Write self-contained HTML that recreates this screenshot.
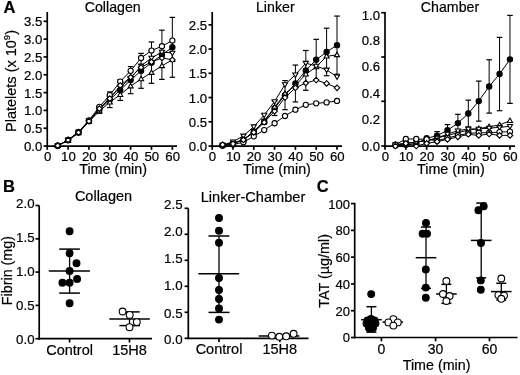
<!DOCTYPE html>
<html><head><meta charset="utf-8"><style>
html,body{margin:0;padding:0;background:#fff;width:520px;height:375px;overflow:hidden}
svg{display:block;filter:blur(0.3px)}
text{stroke:#000;stroke-width:0.2px}
</style></head><body>
<svg width="520" height="375" viewBox="0 0 520 375" font-family='"Liberation Sans", sans-serif' fill="#000" stroke="#000">
<rect width="520" height="375" fill="#fff" stroke="none"/>
<text x="3.4" y="12.9" font-size="16.5" text-anchor="start" font-weight="bold" >A</text>
<text x="3" y="191.9" font-size="16.5" text-anchor="start" font-weight="bold" >B</text>
<text x="316.8" y="192.3" font-size="16.5" text-anchor="start" font-weight="bold" >C</text>
<line x1="47.25" y1="12" x2="47.25" y2="146.9" stroke-width="1.7"/>
<line x1="46.4" y1="146.05" x2="177" y2="146.05" stroke-width="1.7"/>
<line x1="43.55" y1="146.05" x2="47.25" y2="146.05" stroke-width="1.7"/>
<line x1="43.55" y1="128.23" x2="47.25" y2="128.23" stroke-width="1.7"/>
<line x1="43.55" y1="110.41" x2="47.25" y2="110.41" stroke-width="1.7"/>
<line x1="43.55" y1="92.59" x2="47.25" y2="92.59" stroke-width="1.7"/>
<line x1="43.55" y1="74.76" x2="47.25" y2="74.76" stroke-width="1.7"/>
<line x1="43.55" y1="56.94" x2="47.25" y2="56.94" stroke-width="1.7"/>
<line x1="43.55" y1="39.12" x2="47.25" y2="39.12" stroke-width="1.7"/>
<line x1="43.55" y1="21.3" x2="47.25" y2="21.3" stroke-width="1.7"/>
<text x="42.25" y="151.05" font-size="13.2" text-anchor="end" font-weight="normal" >0.0</text>
<text x="42.25" y="133.23" font-size="13.2" text-anchor="end" font-weight="normal" >0.5</text>
<text x="42.25" y="115.41" font-size="13.2" text-anchor="end" font-weight="normal" >1.0</text>
<text x="42.25" y="97.59" font-size="13.2" text-anchor="end" font-weight="normal" >1.5</text>
<text x="42.25" y="79.76" font-size="13.2" text-anchor="end" font-weight="normal" >2.0</text>
<text x="42.25" y="61.94" font-size="13.2" text-anchor="end" font-weight="normal" >2.5</text>
<text x="42.25" y="44.12" font-size="13.2" text-anchor="end" font-weight="normal" >3.0</text>
<text x="42.25" y="26.3" font-size="13.2" text-anchor="end" font-weight="normal" >3.5</text>
<line x1="47.25" y1="146.05" x2="47.25" y2="149.85" stroke-width="1.7"/>
<text x="47.55" y="160.75" font-size="13.2" text-anchor="middle" font-weight="normal" >0</text>
<line x1="68.1" y1="146.05" x2="68.1" y2="149.85" stroke-width="1.7"/>
<text x="68.4" y="160.75" font-size="13.2" text-anchor="middle" font-weight="normal" >10</text>
<line x1="88.95" y1="146.05" x2="88.95" y2="149.85" stroke-width="1.7"/>
<text x="89.25" y="160.75" font-size="13.2" text-anchor="middle" font-weight="normal" >20</text>
<line x1="109.8" y1="146.05" x2="109.8" y2="149.85" stroke-width="1.7"/>
<text x="110.1" y="160.75" font-size="13.2" text-anchor="middle" font-weight="normal" >30</text>
<line x1="130.65" y1="146.05" x2="130.65" y2="149.85" stroke-width="1.7"/>
<text x="130.95" y="160.75" font-size="13.2" text-anchor="middle" font-weight="normal" >40</text>
<line x1="151.5" y1="146.05" x2="151.5" y2="149.85" stroke-width="1.7"/>
<text x="151.8" y="160.75" font-size="13.2" text-anchor="middle" font-weight="normal" >50</text>
<line x1="172.35" y1="146.05" x2="172.35" y2="149.85" stroke-width="1.7"/>
<text x="172.65" y="160.75" font-size="13.2" text-anchor="middle" font-weight="normal" >60</text>
<text x="113.1" y="173.55" font-size="14" text-anchor="middle" font-weight="normal" textLength="67.8" lengthAdjust="spacingAndGlyphs">Time (min)</text>
<text x="112.7" y="11.5" font-size="14.2" text-anchor="middle" font-weight="normal" >Collagen</text>
<line x1="99.38" y1="106.13" x2="99.38" y2="113.26" stroke-width="1.0"/>
<line x1="96.58" y1="106.13" x2="102.17" y2="106.13" stroke-width="1.2"/>
<line x1="96.58" y1="113.26" x2="102.17" y2="113.26" stroke-width="1.2"/>
<line x1="109.8" y1="91.87" x2="109.8" y2="107.56" stroke-width="1.0"/>
<line x1="107" y1="91.87" x2="112.6" y2="91.87" stroke-width="1.2"/>
<line x1="107" y1="107.56" x2="112.6" y2="107.56" stroke-width="1.2"/>
<line x1="120.22" y1="79.75" x2="120.22" y2="100.43" stroke-width="1.0"/>
<line x1="117.42" y1="79.75" x2="123.02" y2="79.75" stroke-width="1.2"/>
<line x1="117.42" y1="100.43" x2="123.02" y2="100.43" stroke-width="1.2"/>
<line x1="130.65" y1="66.57" x2="130.65" y2="93.66" stroke-width="1.0"/>
<line x1="127.85" y1="66.57" x2="133.45" y2="66.57" stroke-width="1.2"/>
<line x1="127.85" y1="93.66" x2="133.45" y2="93.66" stroke-width="1.2"/>
<line x1="141.07" y1="53.38" x2="141.07" y2="88.31" stroke-width="1.0"/>
<line x1="138.27" y1="53.38" x2="143.88" y2="53.38" stroke-width="1.2"/>
<line x1="138.27" y1="88.31" x2="143.88" y2="88.31" stroke-width="1.2"/>
<line x1="151.5" y1="41.97" x2="151.5" y2="83.32" stroke-width="1.0"/>
<line x1="148.7" y1="41.97" x2="154.3" y2="41.97" stroke-width="1.2"/>
<line x1="148.7" y1="83.32" x2="154.3" y2="83.32" stroke-width="1.2"/>
<line x1="161.93" y1="30.21" x2="161.93" y2="79.4" stroke-width="1.0"/>
<line x1="159.12" y1="30.21" x2="164.73" y2="30.21" stroke-width="1.2"/>
<line x1="159.12" y1="79.4" x2="164.73" y2="79.4" stroke-width="1.2"/>
<line x1="172.35" y1="17.38" x2="172.35" y2="77.26" stroke-width="1.0"/>
<line x1="169.55" y1="17.38" x2="175.15" y2="17.38" stroke-width="1.2"/>
<line x1="169.55" y1="77.26" x2="175.15" y2="77.26" stroke-width="1.2"/>
<polyline points="57.67,145.69 68.1,139.99 78.53,132.51 88.95,121.1 99.38,109.69 109.8,99.71 120.22,90.09 130.65,80.11 141.07,70.84 151.5,62.65 161.93,54.8 172.35,47.32" fill="none" stroke="#000" stroke-width="1.0"/>
<polyline points="57.67,145.69 68.1,140.7 78.53,132.86 88.95,121.81 99.38,111.12 109.8,102.21 120.22,94.72 130.65,86.17 141.07,79.04 151.5,72.63 161.93,65.85 172.35,59.79" fill="none" stroke="#000" stroke-width="1.0"/>
<polyline points="57.67,145.69 68.1,139.99 78.53,132.15 88.95,120.74 99.38,108.62 109.8,97.93 120.22,87.24 130.65,78.33 141.07,65.85 151.5,58.01 161.93,51.95 172.35,53.02" fill="none" stroke="#000" stroke-width="1.0"/>
<polyline points="57.67,145.69 68.1,139.99 78.53,131.79 88.95,120.39 99.38,106.84 109.8,95.08 120.22,81.54 130.65,70.84 141.07,58.01 151.5,50.53 161.93,46.25 172.35,40.55" fill="none" stroke="#000" stroke-width="1.0"/>
<polyline points="57.67,145.69 68.1,139.99 78.53,132.51 88.95,121.1 99.38,108.62 109.8,98.65 120.22,85.46 130.65,77.26 141.07,67.28 151.5,61.93 161.93,58.01 172.35,59.79" fill="none" stroke="#000" stroke-width="1.0"/>
<circle cx="57.67" cy="145.69" r="2.65" fill="#000" stroke="#000" stroke-width="1.1"/>
<circle cx="68.1" cy="139.99" r="2.65" fill="#000" stroke="#000" stroke-width="1.1"/>
<circle cx="78.53" cy="132.51" r="2.65" fill="#000" stroke="#000" stroke-width="1.1"/>
<circle cx="88.95" cy="121.1" r="2.65" fill="#000" stroke="#000" stroke-width="1.1"/>
<circle cx="99.38" cy="109.69" r="2.65" fill="#000" stroke="#000" stroke-width="1.1"/>
<circle cx="109.8" cy="99.71" r="2.65" fill="#000" stroke="#000" stroke-width="1.1"/>
<circle cx="120.22" cy="90.09" r="2.65" fill="#000" stroke="#000" stroke-width="1.1"/>
<circle cx="130.65" cy="80.11" r="2.65" fill="#000" stroke="#000" stroke-width="1.1"/>
<circle cx="141.07" cy="70.84" r="2.65" fill="#000" stroke="#000" stroke-width="1.1"/>
<circle cx="151.5" cy="62.65" r="2.65" fill="#000" stroke="#000" stroke-width="1.1"/>
<circle cx="161.93" cy="54.8" r="2.65" fill="#000" stroke="#000" stroke-width="1.1"/>
<circle cx="172.35" cy="47.32" r="2.65" fill="#000" stroke="#000" stroke-width="1.1"/>
<polygon points="57.67,142.99 60.22,147.44 55.12,147.44" fill="#fff" stroke="#000" stroke-width="1.1" stroke-linejoin="miter"/>
<polygon points="68.1,138 70.65,142.45 65.55,142.45" fill="#fff" stroke="#000" stroke-width="1.1" stroke-linejoin="miter"/>
<polygon points="78.53,130.16 81.08,134.61 75.98,134.61" fill="#fff" stroke="#000" stroke-width="1.1" stroke-linejoin="miter"/>
<polygon points="88.95,119.11 91.5,123.56 86.4,123.56" fill="#fff" stroke="#000" stroke-width="1.1" stroke-linejoin="miter"/>
<polygon points="99.38,108.42 101.92,112.87 96.83,112.87" fill="#fff" stroke="#000" stroke-width="1.1" stroke-linejoin="miter"/>
<polygon points="109.8,99.51 112.35,103.96 107.25,103.96" fill="#fff" stroke="#000" stroke-width="1.1" stroke-linejoin="miter"/>
<polygon points="120.22,92.02 122.77,96.47 117.67,96.47" fill="#fff" stroke="#000" stroke-width="1.1" stroke-linejoin="miter"/>
<polygon points="130.65,83.47 133.2,87.92 128.1,87.92" fill="#fff" stroke="#000" stroke-width="1.1" stroke-linejoin="miter"/>
<polygon points="141.07,76.34 143.62,80.79 138.52,80.79" fill="#fff" stroke="#000" stroke-width="1.1" stroke-linejoin="miter"/>
<polygon points="151.5,69.93 154.05,74.38 148.95,74.38" fill="#fff" stroke="#000" stroke-width="1.1" stroke-linejoin="miter"/>
<polygon points="161.93,63.15 164.48,67.6 159.38,67.6" fill="#fff" stroke="#000" stroke-width="1.1" stroke-linejoin="miter"/>
<polygon points="172.35,57.09 174.9,61.54 169.8,61.54" fill="#fff" stroke="#000" stroke-width="1.1" stroke-linejoin="miter"/>
<polygon points="57.67,148.39 60.22,143.94 55.12,143.94" fill="#fff" stroke="#000" stroke-width="1.1"/>
<polygon points="68.1,142.69 70.65,138.24 65.55,138.24" fill="#fff" stroke="#000" stroke-width="1.1"/>
<polygon points="78.53,134.85 81.08,130.4 75.98,130.4" fill="#fff" stroke="#000" stroke-width="1.1"/>
<polygon points="88.95,123.44 91.5,118.99 86.4,118.99" fill="#fff" stroke="#000" stroke-width="1.1"/>
<polygon points="99.38,111.33 101.92,106.88 96.83,106.88" fill="#fff" stroke="#000" stroke-width="1.1"/>
<polygon points="109.8,100.63 112.35,96.18 107.25,96.18" fill="#fff" stroke="#000" stroke-width="1.1"/>
<polygon points="120.22,89.94 122.77,85.49 117.67,85.49" fill="#fff" stroke="#000" stroke-width="1.1"/>
<polygon points="130.65,81.03 133.2,76.58 128.1,76.58" fill="#fff" stroke="#000" stroke-width="1.1"/>
<polygon points="141.07,68.55 143.62,64.1 138.52,64.1" fill="#fff" stroke="#000" stroke-width="1.1"/>
<polygon points="151.5,60.71 154.05,56.26 148.95,56.26" fill="#fff" stroke="#000" stroke-width="1.1"/>
<polygon points="161.93,54.65 164.48,50.2 159.38,50.2" fill="#fff" stroke="#000" stroke-width="1.1"/>
<polygon points="172.35,55.72 174.9,51.27 169.8,51.27" fill="#fff" stroke="#000" stroke-width="1.1"/>
<circle cx="57.67" cy="145.69" r="2.6" fill="#fff" stroke="#000" stroke-width="1.1"/>
<circle cx="68.1" cy="139.99" r="2.6" fill="#fff" stroke="#000" stroke-width="1.1"/>
<circle cx="78.53" cy="131.79" r="2.6" fill="#fff" stroke="#000" stroke-width="1.1"/>
<circle cx="88.95" cy="120.39" r="2.6" fill="#fff" stroke="#000" stroke-width="1.1"/>
<circle cx="99.38" cy="106.84" r="2.6" fill="#fff" stroke="#000" stroke-width="1.1"/>
<circle cx="109.8" cy="95.08" r="2.6" fill="#fff" stroke="#000" stroke-width="1.1"/>
<circle cx="120.22" cy="81.54" r="2.6" fill="#fff" stroke="#000" stroke-width="1.1"/>
<circle cx="130.65" cy="70.84" r="2.6" fill="#fff" stroke="#000" stroke-width="1.1"/>
<circle cx="141.07" cy="58.01" r="2.6" fill="#fff" stroke="#000" stroke-width="1.1"/>
<circle cx="151.5" cy="50.53" r="2.6" fill="#fff" stroke="#000" stroke-width="1.1"/>
<circle cx="161.93" cy="46.25" r="2.6" fill="#fff" stroke="#000" stroke-width="1.1"/>
<circle cx="172.35" cy="40.55" r="2.6" fill="#fff" stroke="#000" stroke-width="1.1"/>
<polygon points="57.67,142.94 60.42,145.69 57.67,148.44 54.92,145.69" fill="#fff" stroke="#000" stroke-width="1.1"/>
<polygon points="68.1,137.24 70.85,139.99 68.1,142.74 65.35,139.99" fill="#fff" stroke="#000" stroke-width="1.1"/>
<polygon points="78.53,129.76 81.28,132.51 78.53,135.26 75.78,132.51" fill="#fff" stroke="#000" stroke-width="1.1"/>
<polygon points="88.95,118.35 91.7,121.1 88.95,123.85 86.2,121.1" fill="#fff" stroke="#000" stroke-width="1.1"/>
<polygon points="99.38,105.88 102.12,108.62 99.38,111.38 96.62,108.62" fill="#fff" stroke="#000" stroke-width="1.1"/>
<polygon points="109.8,95.9 112.55,98.65 109.8,101.4 107.05,98.65" fill="#fff" stroke="#000" stroke-width="1.1"/>
<polygon points="120.22,82.71 122.97,85.46 120.22,88.21 117.47,85.46" fill="#fff" stroke="#000" stroke-width="1.1"/>
<polygon points="130.65,74.51 133.4,77.26 130.65,80.01 127.9,77.26" fill="#fff" stroke="#000" stroke-width="1.1"/>
<polygon points="141.07,64.53 143.82,67.28 141.07,70.03 138.32,67.28" fill="#fff" stroke="#000" stroke-width="1.1"/>
<polygon points="151.5,59.18 154.25,61.93 151.5,64.68 148.75,61.93" fill="#fff" stroke="#000" stroke-width="1.1"/>
<polygon points="161.93,55.26 164.68,58.01 161.93,60.76 159.18,58.01" fill="#fff" stroke="#000" stroke-width="1.1"/>
<polygon points="172.35,57.04 175.1,59.79 172.35,62.54 169.6,59.79" fill="#fff" stroke="#000" stroke-width="1.1"/>
<line x1="212.2" y1="12" x2="212.2" y2="146.9" stroke-width="1.7"/>
<line x1="211.35" y1="146.05" x2="342" y2="146.05" stroke-width="1.7"/>
<line x1="208.5" y1="146.05" x2="212.2" y2="146.05" stroke-width="1.7"/>
<line x1="208.5" y1="121.8" x2="212.2" y2="121.8" stroke-width="1.7"/>
<line x1="208.5" y1="97.55" x2="212.2" y2="97.55" stroke-width="1.7"/>
<line x1="208.5" y1="73.3" x2="212.2" y2="73.3" stroke-width="1.7"/>
<line x1="208.5" y1="49.05" x2="212.2" y2="49.05" stroke-width="1.7"/>
<line x1="208.5" y1="24.8" x2="212.2" y2="24.8" stroke-width="1.7"/>
<text x="207.2" y="151.05" font-size="13.2" text-anchor="end" font-weight="normal" >0.0</text>
<text x="207.2" y="126.8" font-size="13.2" text-anchor="end" font-weight="normal" >0.5</text>
<text x="207.2" y="102.55" font-size="13.2" text-anchor="end" font-weight="normal" >1.0</text>
<text x="207.2" y="78.3" font-size="13.2" text-anchor="end" font-weight="normal" >1.5</text>
<text x="207.2" y="54.05" font-size="13.2" text-anchor="end" font-weight="normal" >2.0</text>
<text x="207.2" y="29.8" font-size="13.2" text-anchor="end" font-weight="normal" >2.5</text>
<line x1="212.2" y1="146.05" x2="212.2" y2="149.85" stroke-width="1.7"/>
<text x="212.5" y="160.75" font-size="13.2" text-anchor="middle" font-weight="normal" >0</text>
<line x1="233" y1="146.05" x2="233" y2="149.85" stroke-width="1.7"/>
<text x="233.3" y="160.75" font-size="13.2" text-anchor="middle" font-weight="normal" >10</text>
<line x1="253.8" y1="146.05" x2="253.8" y2="149.85" stroke-width="1.7"/>
<text x="254.1" y="160.75" font-size="13.2" text-anchor="middle" font-weight="normal" >20</text>
<line x1="274.6" y1="146.05" x2="274.6" y2="149.85" stroke-width="1.7"/>
<text x="274.9" y="160.75" font-size="13.2" text-anchor="middle" font-weight="normal" >30</text>
<line x1="295.4" y1="146.05" x2="295.4" y2="149.85" stroke-width="1.7"/>
<text x="295.7" y="160.75" font-size="13.2" text-anchor="middle" font-weight="normal" >40</text>
<line x1="316.2" y1="146.05" x2="316.2" y2="149.85" stroke-width="1.7"/>
<text x="316.5" y="160.75" font-size="13.2" text-anchor="middle" font-weight="normal" >50</text>
<line x1="337" y1="146.05" x2="337" y2="149.85" stroke-width="1.7"/>
<text x="337.3" y="160.75" font-size="13.2" text-anchor="middle" font-weight="normal" >60</text>
<text x="277" y="173.55" font-size="14" text-anchor="middle" font-weight="normal" textLength="67.8" lengthAdjust="spacingAndGlyphs">Time (min)</text>
<text x="275.3" y="11.5" font-size="14.2" text-anchor="middle" font-weight="normal" >Linker</text>
<line x1="264.2" y1="119.38" x2="264.2" y2="124.23" stroke-width="1.0"/>
<line x1="261.4" y1="119.38" x2="267" y2="119.38" stroke-width="1.2"/>
<line x1="261.4" y1="124.23" x2="267" y2="124.23" stroke-width="1.2"/>
<line x1="274.6" y1="100.94" x2="274.6" y2="115.5" stroke-width="1.0"/>
<line x1="271.8" y1="100.94" x2="277.4" y2="100.94" stroke-width="1.2"/>
<line x1="271.8" y1="115.5" x2="277.4" y2="115.5" stroke-width="1.2"/>
<line x1="285" y1="80.58" x2="285" y2="109.67" stroke-width="1.0"/>
<line x1="282.2" y1="80.58" x2="287.8" y2="80.58" stroke-width="1.2"/>
<line x1="282.2" y1="109.67" x2="287.8" y2="109.67" stroke-width="1.2"/>
<line x1="295.4" y1="65.05" x2="295.4" y2="101.92" stroke-width="1.0"/>
<line x1="292.6" y1="65.05" x2="298.2" y2="65.05" stroke-width="1.2"/>
<line x1="292.6" y1="101.92" x2="298.2" y2="101.92" stroke-width="1.2"/>
<line x1="305.8" y1="50.5" x2="305.8" y2="90.28" stroke-width="1.0"/>
<line x1="303" y1="50.5" x2="308.6" y2="50.5" stroke-width="1.2"/>
<line x1="303" y1="90.28" x2="308.6" y2="90.28" stroke-width="1.2"/>
<line x1="316.2" y1="39.35" x2="316.2" y2="80.09" stroke-width="1.0"/>
<line x1="313.4" y1="39.35" x2="319" y2="39.35" stroke-width="1.2"/>
<line x1="313.4" y1="80.09" x2="319" y2="80.09" stroke-width="1.2"/>
<line x1="326.6" y1="28.19" x2="326.6" y2="75.72" stroke-width="1.0"/>
<line x1="323.8" y1="28.19" x2="329.4" y2="28.19" stroke-width="1.2"/>
<line x1="323.8" y1="75.72" x2="329.4" y2="75.72" stroke-width="1.2"/>
<line x1="337" y1="16.07" x2="337" y2="74.27" stroke-width="1.0"/>
<line x1="334.2" y1="16.07" x2="339.8" y2="16.07" stroke-width="1.2"/>
<line x1="334.2" y1="74.27" x2="339.8" y2="74.27" stroke-width="1.2"/>
<polyline points="222.6,145.08 233,143.14 243.4,139.75 253.8,131.5 264.2,121.8 274.6,108.22 285,95.12 295.4,83.48 305.8,70.39 316.2,59.72 326.6,51.96 337,45.17" fill="none" stroke="#000" stroke-width="1.0"/>
<polyline points="222.6,145.81 233,144.59 243.4,142.17 253.8,136.35 264.2,130.05 274.6,123.26 285,115.98 295.4,109.68 305.8,104.83 316.2,103.37 326.6,102.4 337,100.94" fill="none" stroke="#000" stroke-width="1.0"/>
<polyline points="222.6,145.08 233,143.14 243.4,139.75 253.8,131.5 264.2,120.83 274.6,107.25 285,93.67 295.4,85.43 305.8,74.27 316.2,67 326.6,56.32 337,54.87" fill="none" stroke="#000" stroke-width="1.0"/>
<polyline points="222.6,145.08 233,141.69 243.4,135.87 253.8,126.65 264.2,115.01 274.6,101.43 285,84.45 295.4,74.75 305.8,63.11 316.2,66.03 326.6,69.91 337,76.7" fill="none" stroke="#000" stroke-width="1.0"/>
<polyline points="222.6,144.69 233,143.87 243.4,139.89 253.8,132.47 264.2,122.29 274.6,111.13 285,97.55 295.4,87.85 305.8,83 316.2,80.09 326.6,83.48 337,87.85" fill="none" stroke="#000" stroke-width="1.0"/>
<circle cx="222.6" cy="145.08" r="2.65" fill="#000" stroke="#000" stroke-width="1.1"/>
<circle cx="233" cy="143.14" r="2.65" fill="#000" stroke="#000" stroke-width="1.1"/>
<circle cx="243.4" cy="139.75" r="2.65" fill="#000" stroke="#000" stroke-width="1.1"/>
<circle cx="253.8" cy="131.5" r="2.65" fill="#000" stroke="#000" stroke-width="1.1"/>
<circle cx="264.2" cy="121.8" r="2.65" fill="#000" stroke="#000" stroke-width="1.1"/>
<circle cx="274.6" cy="108.22" r="2.65" fill="#000" stroke="#000" stroke-width="1.1"/>
<circle cx="285" cy="95.12" r="2.65" fill="#000" stroke="#000" stroke-width="1.1"/>
<circle cx="295.4" cy="83.48" r="2.65" fill="#000" stroke="#000" stroke-width="1.1"/>
<circle cx="305.8" cy="70.39" r="2.65" fill="#000" stroke="#000" stroke-width="1.1"/>
<circle cx="316.2" cy="59.72" r="2.65" fill="#000" stroke="#000" stroke-width="1.1"/>
<circle cx="326.6" cy="51.96" r="2.65" fill="#000" stroke="#000" stroke-width="1.1"/>
<circle cx="337" cy="45.17" r="2.65" fill="#000" stroke="#000" stroke-width="1.1"/>
<circle cx="222.6" cy="145.81" r="2.6" fill="#fff" stroke="#000" stroke-width="1.1"/>
<circle cx="233" cy="144.59" r="2.6" fill="#fff" stroke="#000" stroke-width="1.1"/>
<circle cx="243.4" cy="142.17" r="2.6" fill="#fff" stroke="#000" stroke-width="1.1"/>
<circle cx="253.8" cy="136.35" r="2.6" fill="#fff" stroke="#000" stroke-width="1.1"/>
<circle cx="264.2" cy="130.05" r="2.6" fill="#fff" stroke="#000" stroke-width="1.1"/>
<circle cx="274.6" cy="123.26" r="2.6" fill="#fff" stroke="#000" stroke-width="1.1"/>
<circle cx="285" cy="115.98" r="2.6" fill="#fff" stroke="#000" stroke-width="1.1"/>
<circle cx="295.4" cy="109.68" r="2.6" fill="#fff" stroke="#000" stroke-width="1.1"/>
<circle cx="305.8" cy="104.83" r="2.6" fill="#fff" stroke="#000" stroke-width="1.1"/>
<circle cx="316.2" cy="103.37" r="2.6" fill="#fff" stroke="#000" stroke-width="1.1"/>
<circle cx="326.6" cy="102.4" r="2.6" fill="#fff" stroke="#000" stroke-width="1.1"/>
<circle cx="337" cy="100.94" r="2.6" fill="#fff" stroke="#000" stroke-width="1.1"/>
<polygon points="222.6,142.38 225.15,146.83 220.05,146.83" fill="#fff" stroke="#000" stroke-width="1.1" stroke-linejoin="miter"/>
<polygon points="233,140.44 235.55,144.89 230.45,144.89" fill="#fff" stroke="#000" stroke-width="1.1" stroke-linejoin="miter"/>
<polygon points="243.4,137.05 245.95,141.5 240.85,141.5" fill="#fff" stroke="#000" stroke-width="1.1" stroke-linejoin="miter"/>
<polygon points="253.8,128.8 256.35,133.25 251.25,133.25" fill="#fff" stroke="#000" stroke-width="1.1" stroke-linejoin="miter"/>
<polygon points="264.2,118.13 266.75,122.58 261.65,122.58" fill="#fff" stroke="#000" stroke-width="1.1" stroke-linejoin="miter"/>
<polygon points="274.6,104.55 277.15,109 272.05,109" fill="#fff" stroke="#000" stroke-width="1.1" stroke-linejoin="miter"/>
<polygon points="285,90.97 287.55,95.42 282.45,95.42" fill="#fff" stroke="#000" stroke-width="1.1" stroke-linejoin="miter"/>
<polygon points="295.4,82.73 297.95,87.18 292.85,87.18" fill="#fff" stroke="#000" stroke-width="1.1" stroke-linejoin="miter"/>
<polygon points="305.8,71.57 308.35,76.02 303.25,76.02" fill="#fff" stroke="#000" stroke-width="1.1" stroke-linejoin="miter"/>
<polygon points="316.2,64.3 318.75,68.75 313.65,68.75" fill="#fff" stroke="#000" stroke-width="1.1" stroke-linejoin="miter"/>
<polygon points="326.6,53.62 329.15,58.07 324.05,58.07" fill="#fff" stroke="#000" stroke-width="1.1" stroke-linejoin="miter"/>
<polygon points="337,52.17 339.55,56.62 334.45,56.62" fill="#fff" stroke="#000" stroke-width="1.1" stroke-linejoin="miter"/>
<polygon points="222.6,147.78 225.15,143.33 220.05,143.33" fill="#fff" stroke="#000" stroke-width="1.1"/>
<polygon points="233,144.38 235.55,139.94 230.45,139.94" fill="#fff" stroke="#000" stroke-width="1.1"/>
<polygon points="243.4,138.56 245.95,134.12 240.85,134.12" fill="#fff" stroke="#000" stroke-width="1.1"/>
<polygon points="253.8,129.35 256.35,124.9 251.25,124.9" fill="#fff" stroke="#000" stroke-width="1.1"/>
<polygon points="264.2,117.71 266.75,113.26 261.65,113.26" fill="#fff" stroke="#000" stroke-width="1.1"/>
<polygon points="274.6,104.13 277.15,99.68 272.05,99.68" fill="#fff" stroke="#000" stroke-width="1.1"/>
<polygon points="285,87.16 287.55,82.7 282.45,82.7" fill="#fff" stroke="#000" stroke-width="1.1"/>
<polygon points="295.4,77.45 297.95,73 292.85,73" fill="#fff" stroke="#000" stroke-width="1.1"/>
<polygon points="305.8,65.81 308.35,61.36 303.25,61.36" fill="#fff" stroke="#000" stroke-width="1.1"/>
<polygon points="316.2,68.73 318.75,64.28 313.65,64.28" fill="#fff" stroke="#000" stroke-width="1.1"/>
<polygon points="326.6,72.61 329.15,68.16 324.05,68.16" fill="#fff" stroke="#000" stroke-width="1.1"/>
<polygon points="337,79.4 339.55,74.95 334.45,74.95" fill="#fff" stroke="#000" stroke-width="1.1"/>
<polygon points="222.6,141.94 225.35,144.69 222.6,147.44 219.85,144.69" fill="#fff" stroke="#000" stroke-width="1.1"/>
<polygon points="233,141.12 235.75,143.87 233,146.62 230.25,143.87" fill="#fff" stroke="#000" stroke-width="1.1"/>
<polygon points="243.4,137.14 246.15,139.89 243.4,142.64 240.65,139.89" fill="#fff" stroke="#000" stroke-width="1.1"/>
<polygon points="253.8,129.72 256.55,132.47 253.8,135.22 251.05,132.47" fill="#fff" stroke="#000" stroke-width="1.1"/>
<polygon points="264.2,119.54 266.95,122.29 264.2,125.04 261.45,122.29" fill="#fff" stroke="#000" stroke-width="1.1"/>
<polygon points="274.6,108.38 277.35,111.13 274.6,113.88 271.85,111.13" fill="#fff" stroke="#000" stroke-width="1.1"/>
<polygon points="285,94.8 287.75,97.55 285,100.3 282.25,97.55" fill="#fff" stroke="#000" stroke-width="1.1"/>
<polygon points="295.4,85.1 298.15,87.85 295.4,90.6 292.65,87.85" fill="#fff" stroke="#000" stroke-width="1.1"/>
<polygon points="305.8,80.25 308.55,83 305.8,85.75 303.05,83" fill="#fff" stroke="#000" stroke-width="1.1"/>
<polygon points="316.2,77.34 318.95,80.09 316.2,82.84 313.45,80.09" fill="#fff" stroke="#000" stroke-width="1.1"/>
<polygon points="326.6,80.73 329.35,83.48 326.6,86.23 323.85,83.48" fill="#fff" stroke="#000" stroke-width="1.1"/>
<polygon points="337,85.1 339.75,87.85 337,90.6 334.25,87.85" fill="#fff" stroke="#000" stroke-width="1.1"/>
<line x1="385" y1="12" x2="385" y2="146.9" stroke-width="1.7"/>
<line x1="384.15" y1="146.05" x2="515" y2="146.05" stroke-width="1.7"/>
<line x1="381.3" y1="12.7" x2="385" y2="12.7" stroke-width="1.7"/>
<line x1="381.3" y1="57" x2="385" y2="57" stroke-width="1.7"/>
<line x1="381.3" y1="101.3" x2="385" y2="101.3" stroke-width="1.7"/>
<line x1="381.3" y1="146" x2="385" y2="146" stroke-width="1.7"/>
<text x="380" y="20.2" font-size="13.2" text-anchor="end" font-weight="normal" >1.0</text>
<text x="380" y="44.6" font-size="13.2" text-anchor="end" font-weight="normal" >0.8</text>
<text x="380" y="71.4" font-size="13.2" text-anchor="end" font-weight="normal" >0.6</text>
<text x="380" y="98.2" font-size="13.2" text-anchor="end" font-weight="normal" >0.4</text>
<text x="380" y="124.2" font-size="13.2" text-anchor="end" font-weight="normal" >0.2</text>
<text x="380" y="151.2" font-size="13.2" text-anchor="end" font-weight="normal" >0.0</text>
<line x1="385" y1="146.05" x2="385" y2="149.85" stroke-width="1.7"/>
<text x="385.3" y="160.75" font-size="13.2" text-anchor="middle" font-weight="normal" >0</text>
<line x1="405.83" y1="146.05" x2="405.83" y2="149.85" stroke-width="1.7"/>
<text x="406.13" y="160.75" font-size="13.2" text-anchor="middle" font-weight="normal" >10</text>
<line x1="426.66" y1="146.05" x2="426.66" y2="149.85" stroke-width="1.7"/>
<text x="426.96" y="160.75" font-size="13.2" text-anchor="middle" font-weight="normal" >20</text>
<line x1="447.49" y1="146.05" x2="447.49" y2="149.85" stroke-width="1.7"/>
<text x="447.79" y="160.75" font-size="13.2" text-anchor="middle" font-weight="normal" >30</text>
<line x1="468.32" y1="146.05" x2="468.32" y2="149.85" stroke-width="1.7"/>
<text x="468.62" y="160.75" font-size="13.2" text-anchor="middle" font-weight="normal" >40</text>
<line x1="489.15" y1="146.05" x2="489.15" y2="149.85" stroke-width="1.7"/>
<text x="489.45" y="160.75" font-size="13.2" text-anchor="middle" font-weight="normal" >50</text>
<line x1="509.98" y1="146.05" x2="509.98" y2="149.85" stroke-width="1.7"/>
<text x="510.28" y="160.75" font-size="13.2" text-anchor="middle" font-weight="normal" >60</text>
<text x="450.9" y="173.55" font-size="14" text-anchor="middle" font-weight="normal" textLength="67.8" lengthAdjust="spacingAndGlyphs">Time (min)</text>
<text x="450" y="11.5" font-size="14.2" text-anchor="middle" font-weight="normal" >Chamber</text>
<line x1="437.07" y1="131.65" x2="437.07" y2="139.65" stroke-width="1.0"/>
<line x1="434.27" y1="131.65" x2="439.88" y2="131.65" stroke-width="1.2"/>
<line x1="434.27" y1="139.65" x2="439.88" y2="139.65" stroke-width="1.2"/>
<line x1="447.49" y1="124.58" x2="447.49" y2="136.05" stroke-width="1.0"/>
<line x1="444.69" y1="124.58" x2="450.29" y2="124.58" stroke-width="1.2"/>
<line x1="444.69" y1="136.05" x2="450.29" y2="136.05" stroke-width="1.2"/>
<line x1="457.9" y1="114.31" x2="457.9" y2="131.91" stroke-width="1.0"/>
<line x1="455.1" y1="114.31" x2="460.7" y2="114.31" stroke-width="1.2"/>
<line x1="455.1" y1="131.91" x2="460.7" y2="131.91" stroke-width="1.2"/>
<line x1="468.32" y1="100.18" x2="468.32" y2="126.85" stroke-width="1.0"/>
<line x1="465.52" y1="100.18" x2="471.12" y2="100.18" stroke-width="1.2"/>
<line x1="465.52" y1="126.85" x2="471.12" y2="126.85" stroke-width="1.2"/>
<line x1="478.74" y1="81.11" x2="478.74" y2="121.11" stroke-width="1.0"/>
<line x1="475.94" y1="81.11" x2="481.54" y2="81.11" stroke-width="1.2"/>
<line x1="475.94" y1="121.11" x2="481.54" y2="121.11" stroke-width="1.2"/>
<line x1="489.15" y1="59.77" x2="489.15" y2="113.11" stroke-width="1.0"/>
<line x1="486.35" y1="59.77" x2="491.95" y2="59.77" stroke-width="1.2"/>
<line x1="486.35" y1="113.11" x2="491.95" y2="113.11" stroke-width="1.2"/>
<line x1="499.56" y1="37.37" x2="499.56" y2="110.71" stroke-width="1.0"/>
<line x1="496.76" y1="37.37" x2="502.37" y2="37.37" stroke-width="1.2"/>
<line x1="496.76" y1="110.71" x2="502.37" y2="110.71" stroke-width="1.2"/>
<line x1="509.98" y1="15.37" x2="509.98" y2="103.38" stroke-width="1.0"/>
<line x1="507.18" y1="15.37" x2="512.78" y2="15.37" stroke-width="1.2"/>
<line x1="507.18" y1="103.38" x2="512.78" y2="103.38" stroke-width="1.2"/>
<polyline points="395.42,145.38 405.83,144.72 416.25,143.38 426.66,138.32 437.07,135.65 447.49,130.31 457.9,123.11 468.32,113.51 478.74,101.11 489.15,86.44 499.56,74.04 509.98,59.37" fill="none" stroke="#000" stroke-width="1.0"/>
<polyline points="395.42,144.72 405.83,143.38 416.25,142.05 426.66,140.72 437.07,138.05 447.49,135.38 457.9,132.72 468.32,130.05 478.74,128.71 489.15,126.71 499.56,124.98 509.98,120.71" fill="none" stroke="#000" stroke-width="1.0"/>
<polyline points="395.42,144.72 405.83,143.38 416.25,142.05 426.66,140.72 437.07,138.05 447.49,134.05 457.9,130.71 468.32,128.98 478.74,128.98 489.15,128.05 499.56,127.38 509.98,126.31" fill="none" stroke="#000" stroke-width="1.0"/>
<polyline points="395.42,144.72 405.83,138.98 416.25,138.98 426.66,139.38 437.07,140.72 447.49,138.05 457.9,135.38 468.32,133.38 478.74,132.72 489.15,132.72 499.56,132.05 509.98,131.65" fill="none" stroke="#000" stroke-width="1.0"/>
<polyline points="395.42,146.05 405.83,143.38 416.25,146.05 426.66,143.38 437.07,141.65 447.49,139.38 457.9,136.98 468.32,134.32 478.74,135.38 489.15,134.05 499.56,135.38 509.98,135.38" fill="none" stroke="#000" stroke-width="1.0"/>
<circle cx="395.42" cy="145.38" r="2.65" fill="#000" stroke="#000" stroke-width="1.1"/>
<circle cx="405.83" cy="144.72" r="2.65" fill="#000" stroke="#000" stroke-width="1.1"/>
<circle cx="416.25" cy="143.38" r="2.65" fill="#000" stroke="#000" stroke-width="1.1"/>
<circle cx="426.66" cy="138.32" r="2.65" fill="#000" stroke="#000" stroke-width="1.1"/>
<circle cx="437.07" cy="135.65" r="2.65" fill="#000" stroke="#000" stroke-width="1.1"/>
<circle cx="447.49" cy="130.31" r="2.65" fill="#000" stroke="#000" stroke-width="1.1"/>
<circle cx="457.9" cy="123.11" r="2.65" fill="#000" stroke="#000" stroke-width="1.1"/>
<circle cx="468.32" cy="113.51" r="2.65" fill="#000" stroke="#000" stroke-width="1.1"/>
<circle cx="478.74" cy="101.11" r="2.65" fill="#000" stroke="#000" stroke-width="1.1"/>
<circle cx="489.15" cy="86.44" r="2.65" fill="#000" stroke="#000" stroke-width="1.1"/>
<circle cx="499.56" cy="74.04" r="2.65" fill="#000" stroke="#000" stroke-width="1.1"/>
<circle cx="509.98" cy="59.37" r="2.65" fill="#000" stroke="#000" stroke-width="1.1"/>
<polygon points="395.42,142.02 397.97,146.47 392.87,146.47" fill="#fff" stroke="#000" stroke-width="1.1" stroke-linejoin="miter"/>
<polygon points="405.83,140.68 408.38,145.13 403.28,145.13" fill="#fff" stroke="#000" stroke-width="1.1" stroke-linejoin="miter"/>
<polygon points="416.25,139.35 418.8,143.8 413.69,143.8" fill="#fff" stroke="#000" stroke-width="1.1" stroke-linejoin="miter"/>
<polygon points="426.66,138.02 429.21,142.47 424.11,142.47" fill="#fff" stroke="#000" stroke-width="1.1" stroke-linejoin="miter"/>
<polygon points="437.07,135.35 439.62,139.8 434.52,139.8" fill="#fff" stroke="#000" stroke-width="1.1" stroke-linejoin="miter"/>
<polygon points="447.49,132.68 450.04,137.13 444.94,137.13" fill="#fff" stroke="#000" stroke-width="1.1" stroke-linejoin="miter"/>
<polygon points="457.9,130.02 460.45,134.47 455.35,134.47" fill="#fff" stroke="#000" stroke-width="1.1" stroke-linejoin="miter"/>
<polygon points="468.32,127.35 470.87,131.8 465.77,131.8" fill="#fff" stroke="#000" stroke-width="1.1" stroke-linejoin="miter"/>
<polygon points="478.74,126.01 481.29,130.46 476.19,130.46" fill="#fff" stroke="#000" stroke-width="1.1" stroke-linejoin="miter"/>
<polygon points="489.15,124.01 491.7,128.46 486.6,128.46" fill="#fff" stroke="#000" stroke-width="1.1" stroke-linejoin="miter"/>
<polygon points="499.56,122.28 502.12,126.73 497.01,126.73" fill="#fff" stroke="#000" stroke-width="1.1" stroke-linejoin="miter"/>
<polygon points="509.98,118.01 512.53,122.46 507.43,122.46" fill="#fff" stroke="#000" stroke-width="1.1" stroke-linejoin="miter"/>
<polygon points="395.42,147.42 397.97,142.97 392.87,142.97" fill="#fff" stroke="#000" stroke-width="1.1"/>
<polygon points="405.83,146.08 408.38,141.63 403.28,141.63" fill="#fff" stroke="#000" stroke-width="1.1"/>
<polygon points="416.25,144.75 418.8,140.3 413.69,140.3" fill="#fff" stroke="#000" stroke-width="1.1"/>
<polygon points="426.66,143.42 429.21,138.97 424.11,138.97" fill="#fff" stroke="#000" stroke-width="1.1"/>
<polygon points="437.07,140.75 439.62,136.3 434.52,136.3" fill="#fff" stroke="#000" stroke-width="1.1"/>
<polygon points="447.49,136.75 450.04,132.3 444.94,132.3" fill="#fff" stroke="#000" stroke-width="1.1"/>
<polygon points="457.9,133.41 460.45,128.96 455.35,128.96" fill="#fff" stroke="#000" stroke-width="1.1"/>
<polygon points="468.32,131.68 470.87,127.23 465.77,127.23" fill="#fff" stroke="#000" stroke-width="1.1"/>
<polygon points="478.74,131.68 481.29,127.23 476.19,127.23" fill="#fff" stroke="#000" stroke-width="1.1"/>
<polygon points="489.15,130.75 491.7,126.3 486.6,126.3" fill="#fff" stroke="#000" stroke-width="1.1"/>
<polygon points="499.56,130.08 502.12,125.63 497.01,125.63" fill="#fff" stroke="#000" stroke-width="1.1"/>
<polygon points="509.98,129.01 512.53,124.56 507.43,124.56" fill="#fff" stroke="#000" stroke-width="1.1"/>
<circle cx="395.42" cy="144.72" r="2.6" fill="#fff" stroke="#000" stroke-width="1.1"/>
<circle cx="405.83" cy="138.98" r="2.6" fill="#fff" stroke="#000" stroke-width="1.1"/>
<circle cx="416.25" cy="138.98" r="2.6" fill="#fff" stroke="#000" stroke-width="1.1"/>
<circle cx="426.66" cy="139.38" r="2.6" fill="#fff" stroke="#000" stroke-width="1.1"/>
<circle cx="437.07" cy="140.72" r="2.6" fill="#fff" stroke="#000" stroke-width="1.1"/>
<circle cx="447.49" cy="138.05" r="2.6" fill="#fff" stroke="#000" stroke-width="1.1"/>
<circle cx="457.9" cy="135.38" r="2.6" fill="#fff" stroke="#000" stroke-width="1.1"/>
<circle cx="468.32" cy="133.38" r="2.6" fill="#fff" stroke="#000" stroke-width="1.1"/>
<circle cx="478.74" cy="132.72" r="2.6" fill="#fff" stroke="#000" stroke-width="1.1"/>
<circle cx="489.15" cy="132.72" r="2.6" fill="#fff" stroke="#000" stroke-width="1.1"/>
<circle cx="499.56" cy="132.05" r="2.6" fill="#fff" stroke="#000" stroke-width="1.1"/>
<circle cx="509.98" cy="131.65" r="2.6" fill="#fff" stroke="#000" stroke-width="1.1"/>
<polygon points="395.42,143.3 398.17,146.05 395.42,148.8 392.67,146.05" fill="#fff" stroke="#000" stroke-width="1.1"/>
<polygon points="405.83,140.63 408.58,143.38 405.83,146.13 403.08,143.38" fill="#fff" stroke="#000" stroke-width="1.1"/>
<polygon points="416.25,143.3 419,146.05 416.25,148.8 413.5,146.05" fill="#fff" stroke="#000" stroke-width="1.1"/>
<polygon points="426.66,140.63 429.41,143.38 426.66,146.13 423.91,143.38" fill="#fff" stroke="#000" stroke-width="1.1"/>
<polygon points="437.07,138.9 439.82,141.65 437.07,144.4 434.32,141.65" fill="#fff" stroke="#000" stroke-width="1.1"/>
<polygon points="447.49,136.63 450.24,139.38 447.49,142.13 444.74,139.38" fill="#fff" stroke="#000" stroke-width="1.1"/>
<polygon points="457.9,134.23 460.65,136.98 457.9,139.73 455.15,136.98" fill="#fff" stroke="#000" stroke-width="1.1"/>
<polygon points="468.32,131.57 471.07,134.32 468.32,137.07 465.57,134.32" fill="#fff" stroke="#000" stroke-width="1.1"/>
<polygon points="478.74,132.63 481.49,135.38 478.74,138.13 475.99,135.38" fill="#fff" stroke="#000" stroke-width="1.1"/>
<polygon points="489.15,131.3 491.9,134.05 489.15,136.8 486.4,134.05" fill="#fff" stroke="#000" stroke-width="1.1"/>
<polygon points="499.56,132.63 502.31,135.38 499.56,138.13 496.81,135.38" fill="#fff" stroke="#000" stroke-width="1.1"/>
<polygon points="509.98,132.63 512.73,135.38 509.98,138.13 507.23,135.38" fill="#fff" stroke="#000" stroke-width="1.1"/>
<text transform="translate(15.6,81) rotate(-90)" font-size="14.5" text-anchor="middle">Platelets (x 10<tspan font-size="9.5" dy="-5.5">9</tspan><tspan dy="5.5">)</tspan></text>
<text transform="translate(12.2,270.6) rotate(-90)" font-size="14.3" text-anchor="middle">Fibrin (mg)</text>
<text transform="translate(328.6,270.9) rotate(-90)" font-size="14.4" text-anchor="middle">TAT (µg/ml)</text>
<line x1="39.2" y1="205.5" x2="39.2" y2="339.55" stroke-width="1.7"/>
<line x1="38.35" y1="338.7" x2="152" y2="338.7" stroke-width="1.7"/>
<line x1="35.5" y1="338.7" x2="39.2" y2="338.7" stroke-width="1.7"/>
<line x1="35.5" y1="305.4" x2="39.2" y2="305.4" stroke-width="1.7"/>
<line x1="35.5" y1="272.1" x2="39.2" y2="272.1" stroke-width="1.7"/>
<line x1="35.5" y1="238.8" x2="39.2" y2="238.8" stroke-width="1.7"/>
<line x1="35.5" y1="205.5" x2="39.2" y2="205.5" stroke-width="1.7"/>
<text x="34.6" y="207.8" font-size="13.3" text-anchor="end" font-weight="normal" >2.0</text>
<text x="34.6" y="242.1" font-size="13.3" text-anchor="end" font-weight="normal" >1.5</text>
<text x="34.6" y="275.9" font-size="13.3" text-anchor="end" font-weight="normal" >1.0</text>
<text x="34.6" y="309.7" font-size="13.3" text-anchor="end" font-weight="normal" >0.5</text>
<text x="34.6" y="343.7" font-size="13.3" text-anchor="end" font-weight="normal" >0.0</text>
<line x1="69.6" y1="338.7" x2="69.6" y2="342.5" stroke-width="1.7"/>
<text x="69.6" y="354.5" font-size="14.5" text-anchor="middle" font-weight="normal" >Control</text>
<line x1="129.5" y1="338.7" x2="129.5" y2="342.5" stroke-width="1.7"/>
<text x="129.5" y="354.5" font-size="14.5" text-anchor="middle" font-weight="normal" >15H8</text>
<text x="103.5" y="201.2" font-size="14.5" text-anchor="middle" font-weight="normal" >Collagen</text>
<line x1="69.6" y1="249.1" x2="69.6" y2="293.1" stroke-width="1.3"/>
<line x1="59.2" y1="249.1" x2="79.9" y2="249.1" stroke-width="1.5"/>
<line x1="59.2" y1="293.1" x2="79.9" y2="293.1" stroke-width="1.5"/>
<line x1="48.8" y1="271.1" x2="89.9" y2="271.1" stroke-width="1.5"/>
<circle cx="69.6" cy="231.2" r="3.4" fill="#000" stroke="#000" stroke-width="1.1"/>
<circle cx="69.6" cy="253.3" r="3.4" fill="#000" stroke="#000" stroke-width="1.1"/>
<circle cx="76.5" cy="263.3" r="3.4" fill="#000" stroke="#000" stroke-width="1.1"/>
<circle cx="69.6" cy="270.9" r="3.4" fill="#000" stroke="#000" stroke-width="1.1"/>
<circle cx="77.1" cy="278.9" r="3.4" fill="#000" stroke="#000" stroke-width="1.1"/>
<circle cx="62.4" cy="282.7" r="3.4" fill="#000" stroke="#000" stroke-width="1.1"/>
<circle cx="69.6" cy="282.7" r="3.4" fill="#000" stroke="#000" stroke-width="1.1"/>
<circle cx="69.6" cy="303.2" r="3.4" fill="#000" stroke="#000" stroke-width="1.1"/>
<line x1="129.5" y1="311.9" x2="129.5" y2="325.6" stroke-width="1.3"/>
<line x1="119.4" y1="311.9" x2="139.7" y2="311.9" stroke-width="1.5"/>
<line x1="119.4" y1="325.6" x2="139.9" y2="325.6" stroke-width="1.5"/>
<line x1="109.3" y1="319" x2="149.8" y2="319" stroke-width="1.5"/>
<circle cx="122.6" cy="311.5" r="3.4" fill="#fff" stroke="#000" stroke-width="1.1"/>
<circle cx="129.7" cy="314.9" r="3.4" fill="#fff" stroke="#000" stroke-width="1.1"/>
<circle cx="136.8" cy="322.1" r="3.4" fill="#fff" stroke="#000" stroke-width="1.1"/>
<circle cx="129.5" cy="327.2" r="3.4" fill="#fff" stroke="#000" stroke-width="1.1"/>
<line x1="188.3" y1="208.3" x2="188.3" y2="339.15" stroke-width="1.7"/>
<line x1="187.45" y1="338.3" x2="308.5" y2="338.3" stroke-width="1.7"/>
<line x1="184.6" y1="338.3" x2="188.3" y2="338.3" stroke-width="1.7"/>
<line x1="184.6" y1="312.3" x2="188.3" y2="312.3" stroke-width="1.7"/>
<line x1="184.6" y1="286.3" x2="188.3" y2="286.3" stroke-width="1.7"/>
<line x1="184.6" y1="260.3" x2="188.3" y2="260.3" stroke-width="1.7"/>
<line x1="184.6" y1="234.3" x2="188.3" y2="234.3" stroke-width="1.7"/>
<line x1="184.6" y1="208.3" x2="188.3" y2="208.3" stroke-width="1.7"/>
<text x="182.6" y="343.9" font-size="13.3" text-anchor="end" font-weight="normal" >0.0</text>
<text x="182.6" y="317.8" font-size="13.3" text-anchor="end" font-weight="normal" >0.5</text>
<text x="182.6" y="289.9" font-size="13.3" text-anchor="end" font-weight="normal" >1.0</text>
<text x="182.6" y="263" font-size="13.3" text-anchor="end" font-weight="normal" >1.5</text>
<text x="182.6" y="235.9" font-size="13.3" text-anchor="end" font-weight="normal" >2.0</text>
<text x="182.6" y="208.9" font-size="13.3" text-anchor="end" font-weight="normal" >2.5</text>
<line x1="219" y1="338.3" x2="219" y2="342.1" stroke-width="1.7"/>
<text x="219" y="354.1" font-size="14.5" text-anchor="middle" font-weight="normal" >Control</text>
<line x1="279.8" y1="338.3" x2="279.8" y2="342.1" stroke-width="1.7"/>
<text x="279.8" y="354.1" font-size="14.5" text-anchor="middle" font-weight="normal" >15H8</text>
<text x="253" y="202.1" font-size="14.6" text-anchor="middle" font-weight="normal" >Linker-Chamber</text>
<line x1="219" y1="236" x2="219" y2="312.4" stroke-width="1.3"/>
<line x1="208.5" y1="236" x2="229.3" y2="236" stroke-width="1.5"/>
<line x1="208.5" y1="312.4" x2="229.5" y2="312.4" stroke-width="1.5"/>
<line x1="198.4" y1="273.8" x2="239.2" y2="273.8" stroke-width="1.5"/>
<circle cx="219" cy="218" r="3.4" fill="#000" stroke="#000" stroke-width="1.1"/>
<circle cx="219" cy="230.7" r="3.4" fill="#000" stroke="#000" stroke-width="1.1"/>
<circle cx="219" cy="242.7" r="3.4" fill="#000" stroke="#000" stroke-width="1.1"/>
<circle cx="219" cy="278" r="3.4" fill="#000" stroke="#000" stroke-width="1.1"/>
<circle cx="219" cy="290" r="3.4" fill="#000" stroke="#000" stroke-width="1.1"/>
<circle cx="219" cy="299" r="3.4" fill="#000" stroke="#000" stroke-width="1.1"/>
<circle cx="219" cy="308.4" r="3.4" fill="#000" stroke="#000" stroke-width="1.1"/>
<circle cx="219" cy="319.6" r="3.4" fill="#000" stroke="#000" stroke-width="1.1"/>
<line x1="258.7" y1="336" x2="299.4" y2="336" stroke-width="1.5"/>
<circle cx="271.9" cy="335.6" r="3.4" fill="#fff" stroke="#000" stroke-width="1.1"/>
<circle cx="279.3" cy="336.8" r="3.4" fill="#fff" stroke="#000" stroke-width="1.1"/>
<circle cx="286.2" cy="336.3" r="3.4" fill="#fff" stroke="#000" stroke-width="1.1"/>
<circle cx="293.6" cy="333.8" r="3.4" fill="#fff" stroke="#000" stroke-width="1.1"/>
<line x1="354.7" y1="202.75" x2="354.7" y2="338.35" stroke-width="1.7"/>
<line x1="353.85" y1="337.5" x2="517.5" y2="337.5" stroke-width="1.7"/>
<line x1="351" y1="337.5" x2="354.7" y2="337.5" stroke-width="1.7"/>
<text x="349.9" y="342.4" font-size="13" text-anchor="end" font-weight="normal" >0</text>
<line x1="351" y1="310.72" x2="354.7" y2="310.72" stroke-width="1.7"/>
<text x="349.9" y="315.62" font-size="13" text-anchor="end" font-weight="normal" >20</text>
<line x1="351" y1="283.94" x2="354.7" y2="283.94" stroke-width="1.7"/>
<text x="349.9" y="288.84" font-size="13" text-anchor="end" font-weight="normal" >40</text>
<line x1="351" y1="257.16" x2="354.7" y2="257.16" stroke-width="1.7"/>
<text x="349.9" y="262.06" font-size="13" text-anchor="end" font-weight="normal" >60</text>
<line x1="351" y1="230.38" x2="354.7" y2="230.38" stroke-width="1.7"/>
<text x="349.9" y="235.28" font-size="13" text-anchor="end" font-weight="normal" >80</text>
<line x1="351" y1="203.6" x2="354.7" y2="203.6" stroke-width="1.7"/>
<text x="349.9" y="208.5" font-size="13" text-anchor="end" font-weight="normal" >100</text>
<line x1="381.4" y1="337.5" x2="381.4" y2="341.3" stroke-width="1.7"/>
<text x="381.4" y="354" font-size="14" text-anchor="middle" font-weight="normal" >0</text>
<line x1="435.6" y1="337.5" x2="435.6" y2="341.3" stroke-width="1.7"/>
<text x="435.6" y="354" font-size="14" text-anchor="middle" font-weight="normal" >30</text>
<line x1="489.5" y1="337.5" x2="489.5" y2="341.3" stroke-width="1.7"/>
<text x="489.5" y="354" font-size="14" text-anchor="middle" font-weight="normal" >60</text>
<text x="436.6" y="370.3" font-size="14" text-anchor="middle" font-weight="normal" textLength="67.8" lengthAdjust="spacingAndGlyphs">Time (min)</text>
<line x1="371.4" y1="306.7" x2="371.4" y2="332.14" stroke-width="1.3"/>
<line x1="366.4" y1="306.7" x2="376.4" y2="306.7" stroke-width="1.5"/>
<line x1="366.4" y1="332.14" x2="376.4" y2="332.14" stroke-width="1.5"/>
<line x1="361.1" y1="319.69" x2="381.7" y2="319.69" stroke-width="1.5"/>
<circle cx="371.2" cy="294.1" r="3.4" fill="#000" stroke="#000" stroke-width="1.1"/>
<circle cx="367.5" cy="320.5" r="3.4" fill="#000" stroke="#000" stroke-width="1.1"/>
<circle cx="374.5" cy="320.5" r="3.4" fill="#000" stroke="#000" stroke-width="1.1"/>
<circle cx="371" cy="319" r="3.4" fill="#000" stroke="#000" stroke-width="1.1"/>
<circle cx="366.5" cy="323.5" r="3.4" fill="#000" stroke="#000" stroke-width="1.1"/>
<circle cx="375.5" cy="323.5" r="3.4" fill="#000" stroke="#000" stroke-width="1.1"/>
<circle cx="371" cy="325" r="3.4" fill="#000" stroke="#000" stroke-width="1.1"/>
<circle cx="369" cy="328" r="3.4" fill="#000" stroke="#000" stroke-width="1.1"/>
<circle cx="373" cy="328" r="3.4" fill="#000" stroke="#000" stroke-width="1.1"/>
<line x1="392.8" y1="320.09" x2="392.8" y2="324.11" stroke-width="1.3"/>
<line x1="387.8" y1="320.09" x2="397.8" y2="320.09" stroke-width="1.5"/>
<line x1="387.8" y1="324.11" x2="397.8" y2="324.11" stroke-width="1.5"/>
<line x1="382.5" y1="322.1" x2="403.1" y2="322.1" stroke-width="1.5"/>
<circle cx="393.4" cy="319.2" r="3.4" fill="#fff" stroke="#000" stroke-width="1.1"/>
<circle cx="388.4" cy="322.4" r="3.4" fill="#fff" stroke="#000" stroke-width="1.1"/>
<circle cx="397.8" cy="322.4" r="3.4" fill="#fff" stroke="#000" stroke-width="1.1"/>
<circle cx="393.4" cy="325.6" r="3.4" fill="#fff" stroke="#000" stroke-width="1.1"/>
<line x1="426" y1="227.03" x2="426" y2="288.36" stroke-width="1.3"/>
<line x1="421" y1="227.03" x2="431" y2="227.03" stroke-width="1.5"/>
<line x1="421" y1="288.36" x2="431" y2="288.36" stroke-width="1.5"/>
<line x1="415.7" y1="257.7" x2="436.3" y2="257.7" stroke-width="1.5"/>
<circle cx="426" cy="223" r="3.4" fill="#000" stroke="#000" stroke-width="1.1"/>
<circle cx="422.6" cy="233.7" r="3.4" fill="#000" stroke="#000" stroke-width="1.1"/>
<circle cx="427" cy="233.7" r="3.4" fill="#000" stroke="#000" stroke-width="1.1"/>
<circle cx="425.8" cy="269.5" r="3.4" fill="#000" stroke="#000" stroke-width="1.1"/>
<circle cx="425.8" cy="287.6" r="3.4" fill="#000" stroke="#000" stroke-width="1.1"/>
<circle cx="425.8" cy="297.7" r="3.4" fill="#000" stroke="#000" stroke-width="1.1"/>
<line x1="446.4" y1="284.34" x2="446.4" y2="303.36" stroke-width="1.3"/>
<line x1="441.4" y1="284.34" x2="451.4" y2="284.34" stroke-width="1.5"/>
<line x1="441.4" y1="303.36" x2="451.4" y2="303.36" stroke-width="1.5"/>
<line x1="436.1" y1="293.98" x2="456.7" y2="293.98" stroke-width="1.5"/>
<circle cx="446.4" cy="281" r="3.4" fill="#fff" stroke="#000" stroke-width="1.1"/>
<circle cx="443" cy="294" r="3.4" fill="#fff" stroke="#000" stroke-width="1.1"/>
<circle cx="449.6" cy="296" r="3.4" fill="#fff" stroke="#000" stroke-width="1.1"/>
<circle cx="446.4" cy="301" r="3.4" fill="#fff" stroke="#000" stroke-width="1.1"/>
<line x1="481.2" y1="203.06" x2="481.2" y2="277.91" stroke-width="1.3"/>
<line x1="476.2" y1="203.06" x2="486.2" y2="203.06" stroke-width="1.5"/>
<line x1="476.2" y1="277.91" x2="486.2" y2="277.91" stroke-width="1.5"/>
<line x1="470.9" y1="240.42" x2="491.5" y2="240.42" stroke-width="1.5"/>
<circle cx="483.7" cy="206.2" r="3.4" fill="#000" stroke="#000" stroke-width="1.1"/>
<circle cx="478.4" cy="210.2" r="3.4" fill="#000" stroke="#000" stroke-width="1.1"/>
<circle cx="481" cy="243" r="3.4" fill="#000" stroke="#000" stroke-width="1.1"/>
<circle cx="480.8" cy="280.4" r="3.4" fill="#000" stroke="#000" stroke-width="1.1"/>
<circle cx="480.8" cy="289.7" r="3.4" fill="#000" stroke="#000" stroke-width="1.1"/>
<line x1="501.3" y1="283.27" x2="501.3" y2="300.01" stroke-width="1.3"/>
<line x1="496.3" y1="283.27" x2="506.3" y2="283.27" stroke-width="1.5"/>
<line x1="496.3" y1="300.01" x2="506.3" y2="300.01" stroke-width="1.5"/>
<line x1="491" y1="291.57" x2="511.6" y2="291.57" stroke-width="1.5"/>
<circle cx="501.3" cy="278.5" r="3.4" fill="#fff" stroke="#000" stroke-width="1.1"/>
<circle cx="498.4" cy="295.1" r="3.4" fill="#fff" stroke="#000" stroke-width="1.1"/>
<circle cx="504" cy="295.6" r="3.4" fill="#fff" stroke="#000" stroke-width="1.1"/>
<circle cx="501.3" cy="298.8" r="3.4" fill="#fff" stroke="#000" stroke-width="1.1"/>
</svg>
</body></html>
